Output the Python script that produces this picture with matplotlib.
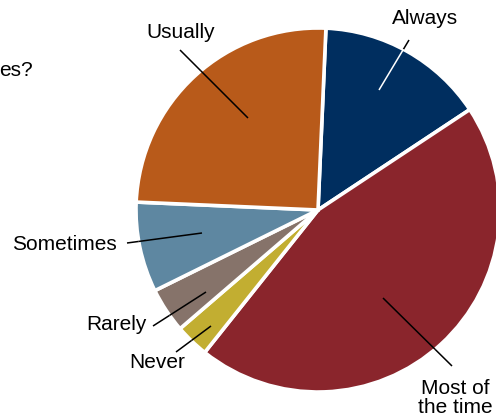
import numpy as np
import matplotlib
matplotlib.use("Agg")
import matplotlib.pyplot as plt

# ---- data ----
categories = ["Always", "Most of\nthe time", "Never", "Rarely", "Sometimes", "Usually"]
values = [15, 45, 3, 4, 8, 25]
colors = ["#002E5F", "#8A252C", "#C2AE31", "#86736A", "#5E87A1", "#B85A1A"]
title_fragment = "es?"

# ---- layout (pixel coordinates, y measured from top) ----
W, H = 496, 419
CX, CY, R = 318, 210, 182
label_pos = {
    "Always": (425, 19),
    "Most of\nthe time": (455, 398),
    "Never": (157, 363),
    "Rarely": (116, 324),
    "Sometimes": (64, 245),
    "Usually": (181, 33),
}
leaders = {
    "Always": ((409, 40), (379, 90), "white"),
    "Most of\nthe time": ((452, 366), (383, 298), "black"),
    "Never": ((176, 352), (211, 326), "black"),
    "Rarely": ((153, 326), (206, 292), "black"),
    "Sometimes": ((127, 243), (202, 233), "black"),
    "Usually": ((180, 50), (248, 118), "black"),
}

plt.rcParams["font.family"] = ["Liberation Sans", "DejaVu Sans"]
FS = 15

fig = plt.figure(figsize=(W / 100, H / 100), dpi=100)
ax = fig.add_axes([0, 0, 1, 1])

def Y(y):
    return H - y

ax.pie(values, colors=colors, startangle=87.5, counterclock=False,
       center=(CX, Y(CY)), radius=R,
       wedgeprops=dict(edgecolor="white", linewidth=2.6))
ax.set_xlim(0, W)
ax.set_ylim(0, H)
ax.set_aspect("equal")
ax.axis("off")

for cat in categories:
    x, y = label_pos[cat]
    ax.text(x, Y(y), cat, fontsize=FS, ha="center", va="center",
            linespacing=1.0, color="black")
    (x0, y0), (x1, y1), inner_col = leaders[cat]
    # split at the pie edge
    p0 = np.array([x0, y0], float)
    p1 = np.array([x1, y1], float)
    c = np.array([CX, CY], float)
    d = p1 - p0
    f = p0 - c
    a = d @ d
    b = 2 * f @ d
    cc = f @ f - R * R
    disc = b * b - 4 * a * cc
    t = 0.0
    if disc >= 0:
        t = (-b - np.sqrt(disc)) / (2 * a)
        t = min(max(t, 0.0), 1.0)
    pm = p0 + t * d
    ax.plot([p0[0], pm[0]], [Y(p0[1]), Y(pm[1])], color="black", lw=1.1,
            solid_capstyle="butt")
    ax.plot([pm[0], p1[0]], [Y(pm[1]), Y(p1[1])], color=inner_col, lw=1.1,
            solid_capstyle="butt")

ax.text(-1, Y(71), title_fragment, fontsize=FS, ha="left", va="center",
        color="black")

fig.savefig("out.png", dpi=100)
